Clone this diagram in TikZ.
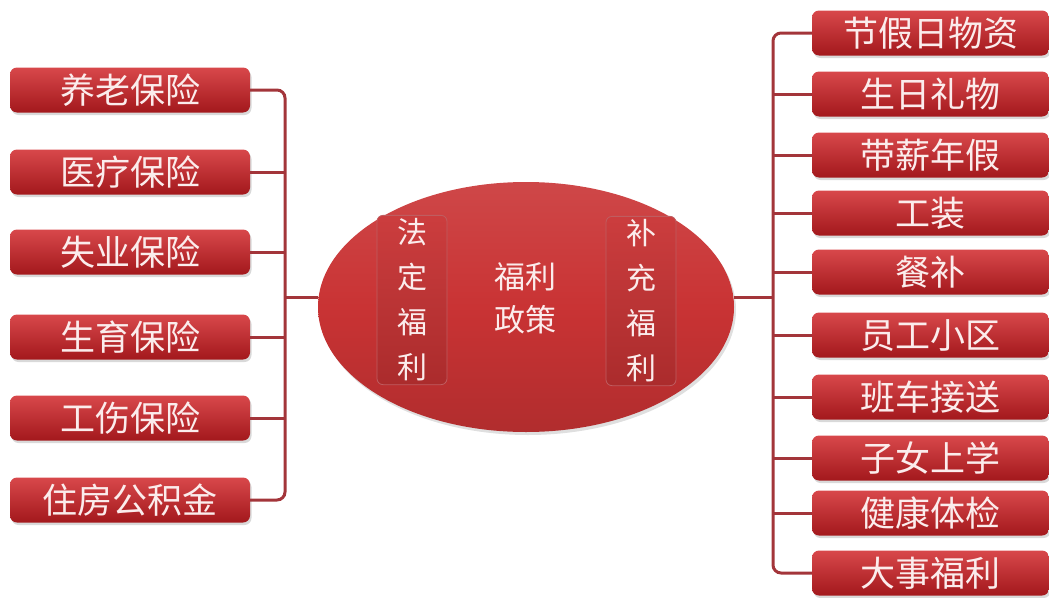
\documentclass[tikz,border=0pt]{standalone}
\usepackage{fontspec}
\setmainfont{Noto Sans CJK SC}
\usetikzlibrary{shapes.geometric,shadows}
\definecolor{boxtop}{HTML}{D8484B}
\definecolor{boxbot}{HTML}{A3181C}
\definecolor{linkred}{HTML}{A3353A}
\definecolor{txtpink}{HTML}{FBECEC}
\definecolor{hubred}{HTML}{C93334}
\tikzset{
  itembox/.style={rounded corners=7pt, top color=boxtop, bottom color=boxbot, inner sep=0pt,
    minimum height=45pt, text height=30.5pt, text depth=4pt, text=txtpink,
    font=\fontsize{35}{35}\selectfont,
    drop shadow={opacity=0.3, shadow xshift=1.5pt, shadow yshift=-2.5pt}},
  leftbox/.style={itembox, minimum width=240pt},
  rightbox/.style={itembox, minimum width=237pt},
  colbox/.style={rounded corners=6pt, draw=boxbot!70, line width=0.8pt, top color=hubred!95!white,
    bottom color=hubred!85!black, minimum width=70pt, minimum height=160pt, text=txtpink,
    align=center, font=\fontsize{30}{45}\selectfont},
  link/.style={linkred, line width=3pt},
}
\begin{document}
\begin{tikzpicture}[x=1pt,y=-1pt]
\useasboundingbox (0,0) rectangle (1049,597);

% left: statutory items
\node[leftbox] (L1) at (130,90) {养老保险};
\node[leftbox] (L2) at (130,172) {医疗保险};
\node[leftbox] (L3) at (130,252) {失业保险};
\node[leftbox] (L4) at (130,337) {生育保险};
\node[leftbox] (L5) at (130,418) {工伤保险};
\node[leftbox] (L6) at (130,500) {住房公积金};

% right: extra items
\node[rightbox] (R1) at (930.5,33) {节假日物资};
\node[rightbox] (R2) at (930.5,94) {生日礼物};
\node[rightbox] (R3) at (930.5,155) {带薪年假};
\node[rightbox] (R4) at (930.5,213) {工装};
\node[rightbox] (R5) at (930.5,272) {餐补};
\node[rightbox] (R6) at (930.5,335) {员工小区};
\node[rightbox] (R7) at (930.5,397) {班车接送};
\node[rightbox] (R8) at (930.5,458) {子女上学};
\node[rightbox] (R9) at (930.5,513) {健康体检};
\node[rightbox] (R10) at (930.5,573) {大事福利};

% centre
\node[ellipse, inner sep=0pt, minimum width=416pt, minimum height=250pt,
  top color=hubred!90!white, bottom color=hubred!88!black, middle color=hubred,
  drop shadow={opacity=0.25, shadow xshift=2pt, shadow yshift=-3pt}] (hub) at (526,307) {};
\node[colbox] (legal) at (412,300) {法\\定\\福\\利};
\node[colbox] (extra) at (641,301) {补\\充\\福\\利};
\node[text=txtpink, align=center, font=\fontsize{31}{43}\selectfont] (policy) at (525,298) {福利\\政策};

\coordinate (lbar) at (285,297);
\coordinate (rbar) at (773,297);

\draw[link, rounded corners=8pt] (L1.east) -| (lbar) |- (L6.east);
\draw[link] (L2.east) -- (L2.east -| lbar);
\draw[link] (L3.east) -- (L3.east -| lbar);
\draw[link] (L4.east) -- (L4.east -| lbar);
\draw[link] (L5.east) -- (L5.east -| lbar);
\draw[link] (lbar) -- (lbar -| hub.west);

\draw[link, rounded corners=8pt] (R1.west) -| (rbar) |- (R10.west);
\draw[link] (R2.west) -- (R2.west -| rbar);
\draw[link] (R3.west) -- (R3.west -| rbar);
\draw[link] (R4.west) -- (R4.west -| rbar);
\draw[link] (R5.west) -- (R5.west -| rbar);
\draw[link] (R6.west) -- (R6.west -| rbar);
\draw[link] (R7.west) -- (R7.west -| rbar);
\draw[link] (R8.west) -- (R8.west -| rbar);
\draw[link] (R9.west) -- (R9.west -| rbar);
\draw[link] (rbar) -- (rbar -| hub.east);

\end{tikzpicture}
\end{document}
